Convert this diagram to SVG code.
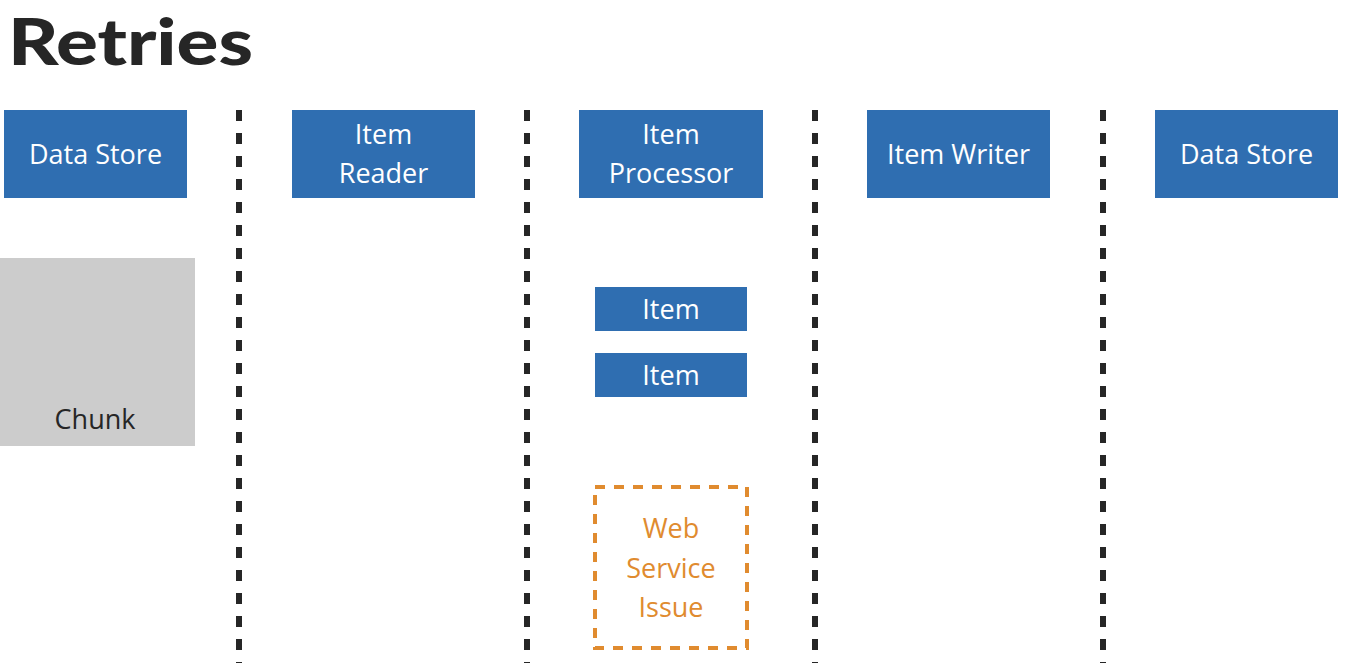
<svg xmlns="http://www.w3.org/2000/svg" width="1354" height="663" viewBox="0 0 1354 663">
<style>
.box{fill:#2f6eb1}
.t{font-family:"Open Sans",Lato,"Liberation Sans",sans-serif;font-size:27px;fill:#ffffff;text-anchor:middle}
.sep{stroke:#262626;stroke-width:6;stroke-dasharray:11 12;fill:none}
</style>
<rect width="1354" height="663" fill="#ffffff"/>
<text x="8" y="65" font-family="Lato,'Open Sans','Liberation Sans',sans-serif" font-weight="900" font-size="65" fill="#262626" textLength="245" lengthAdjust="spacingAndGlyphs">Retries</text>
<g id="connectors">
<line class="sep" x1="239" y1="110" x2="239" y2="663"/>
<line class="sep" x1="527" y1="110" x2="527" y2="663"/>
<line class="sep" x1="815" y1="110" x2="815" y2="663"/>
<line class="sep" x1="1103" y1="110" x2="1103" y2="663"/>
</g>
<g id="ds1"><rect class="box" x="4" y="110" width="183" height="88"/><text class="t" x="95.5" y="164">Data Store</text></g>
<g id="reader"><rect class="box" x="292" y="110" width="183" height="88"/><text class="t" x="383.5" y="144">Item</text><text class="t" x="383.5" y="183">Reader</text></g>
<g id="processor"><rect class="box" x="579" y="110" width="184" height="88"/><text class="t" x="671" y="144">Item</text><text class="t" x="671" y="183">Processor</text></g>
<g id="writer"><rect class="box" x="867" y="110" width="183" height="88"/><text class="t" x="958.5" y="164">Item Writer</text></g>
<g id="ds2"><rect class="box" x="1155" y="110" width="183" height="88"/><text class="t" x="1246.5" y="164">Data Store</text></g>
<g id="chunk"><rect x="0" y="258" width="195" height="188" fill="#cccccc"/><text class="t" x="95" y="429" style="fill:#262626">Chunk</text></g>
<g id="item1"><rect class="box" x="595" y="287" width="152" height="44"/><text class="t" x="671" y="319">Item</text></g>
<g id="item2"><rect class="box" x="595" y="353" width="152" height="44"/><text class="t" x="671" y="385">Item</text></g>
<g id="ws"><rect x="595" y="487" width="152" height="161" fill="none" stroke="#e08b2f" stroke-width="4" stroke-dasharray="10 9"/>
<text class="t" x="671" y="538" style="fill:#e08b2f">Web</text>
<text class="t" x="671" y="578" style="fill:#e08b2f">Service</text>
<text class="t" x="671" y="617" style="fill:#e08b2f">Issue</text></g>
</svg>
